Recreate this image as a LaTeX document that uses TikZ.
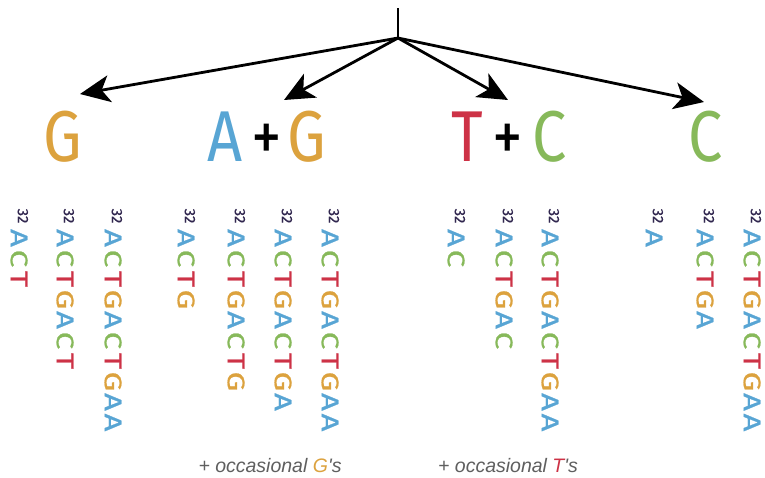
\documentclass[tikz,border=0pt]{standalone}
\usepackage{fontspec}
\setmainfont{Fira Sans}
\newfontfamily\notefont{Liberation Sans}
\usetikzlibrary{arrows.meta}
\definecolor{colA}{RGB}{88,165,212}
\definecolor{colC}{RGB}{135,185,90}
\definecolor{colT}{RGB}{205,50,70}
\definecolor{colG}{RGB}{220,162,62}
\definecolor{supcol}{RGB}{50,40,80}
\definecolor{notecol}{RGB}{95,95,95}
\tikzset{
  bigletter/.style={inner sep=0pt, font=\fontsize{72}{72}\selectfont, text height=49pt, text depth=0pt},
  seqletter/.style={inner sep=0pt, rotate=-90, font=\fontsize{24}{24}\selectfont\addfontfeatures{FakeBold=0.8}, text height=16.5pt, text depth=0pt},
  supnum/.style={inner sep=0pt, rotate=-90, text=supcol, font=\fontsize{15}{15}\selectfont\addfontfeatures{FakeBold=0.5}, text height=10.3pt, text depth=0pt},
  note/.style={inner sep=0pt, text=notecol, font=\notefont\itshape\fontsize{19.5}{19.5}\selectfont},
  arrowline/.style={line width=2.8pt, -{Stealth[length=30pt,width=27pt,inset=8pt]}},
}
\newcommand{\seqcol}[3]{%
  \node[supnum] (#1-0) at (#2+4,216) {32};
  \foreach \L [count=\i] in {#3} {
    \node[seqletter, text=col\L] (#1-\i) at (#2,238+20.5*\i-20.5) {\scalebox{1.3}[1]{\L}};
  }%
}
\begin{document}
\begin{tikzpicture}[x=1pt,y=-1pt]
\fill[white] (0,0) rectangle (765,477);
\useasboundingbox (0,0) rectangle (765,477);

% tree
\coordinate (top) at (398,8);
\coordinate (hub) at (398,38);
\coordinate (tipG) at (80,94);
\coordinate (tipAG) at (284,100);
\coordinate (tipTC) at (508,100);
\coordinate (tipC) at (704,102);
\draw[line width=2.8pt] (top) -- (hub);
\draw[arrowline] (hub) -- (tipG);
\draw[arrowline] (hub) -- (tipAG);
\draw[arrowline] (hub) -- (tipTC);
\draw[arrowline] (hub) -- (tipC);

% big letters
\node[bigletter, text=colG] (g1) at (63,137) {\scalebox{0.85}[1]{G}};
\node[bigletter, text=colA] (ag1) at (225,137) {\scalebox{0.85}[1]{A}};
\node[bigletter, text=black] (ag2) at (267,137) {\scalebox{0.85}[1]{+}};
\node[bigletter, text=colG] (ag3) at (307,137) {\scalebox{0.85}[1]{G}};
\node[bigletter, text=colT] (tc1) at (467,137) {\scalebox{0.85}[1]{T}};
\node[bigletter, text=black] (tc2) at (508,137) {\scalebox{0.85}[1]{+}};
\node[bigletter, text=colC] (tc3) at (550,137) {\scalebox{0.85}[1]{C}};
\node[bigletter, text=colC] (c1) at (706,137) {\scalebox{0.85}[1]{C}};

% sequences
\seqcol{ga}{19}{A,C,T}
\seqcol{gb}{65}{A,C,T,G,A,C,T}
\seqcol{gc}{113}{A,C,T,G,A,C,T,G,A,A}
\seqcol{aga}{186}{A,C,T,G}
\seqcol{agb}{236}{A,C,T,G,A,C,T,G}
\seqcol{agc}{283}{A,C,T,G,A,C,T,G,A}
\seqcol{agd}{330}{A,C,T,G,A,C,T,G,A,A}
\seqcol{tca}{456}{A,C}
\seqcol{tcb}{504}{A,C,T,G,A,C}
\seqcol{tcc}{550}{A,C,T,G,A,C,T,G,A,A}
\seqcol{ca}{654}{A}
\seqcol{cb}{705}{A,C,T,G,A}
\seqcol{cc}{752}{A,C,T,G,A,C,T,G,A,A}

% notes
\node[note] (n1) at (270,466) {+ occasional \textcolor{colG}{G}'s};
\node[note] (n2) at (508,466) {+ occasional \textcolor{colT}{T}'s};
\end{tikzpicture}
\end{document}
